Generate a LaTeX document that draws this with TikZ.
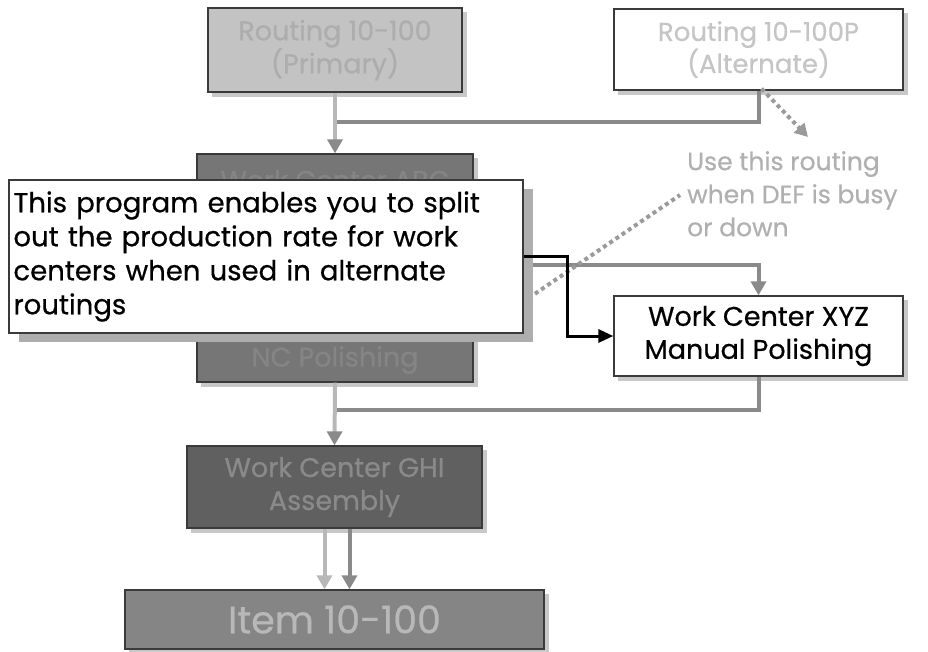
\documentclass[tikz,border=0pt]{standalone}
\usepackage{fontspec}
\setmainfont{Poppins}[FakeBold=0.6]
\usetikzlibrary{arrows.meta}
\definecolor{bordergray}{HTML}{3A3A3A}
\definecolor{shadowgray}{HTML}{C8C8C8}
\definecolor{calloutshadow}{HTML}{AEAEAE}
\definecolor{primfill}{HTML}{C3C3C3}
\definecolor{primtext}{HTML}{ADADAD}
\definecolor{alttext}{HTML}{C5C5C5}
\definecolor{abcfill}{HTML}{767676}
\definecolor{abctext}{HTML}{858585}
\definecolor{ghifill}{HTML}{606060}
\definecolor{ghitext}{HTML}{8A8A8A}
\definecolor{itemfill}{HTML}{858585}
\definecolor{itemtext}{HTML}{B8B8B8}
\definecolor{lightline}{HTML}{B8B8B8}
\definecolor{midline}{HTML}{8A8A8A}
\definecolor{dotgray}{HTML}{9A9A9A}
\definecolor{notetext}{HTML}{B0B0B0}
\tikzset{
  box/.style={draw=bordergray, line width=1.3pt, inner sep=0pt, align=center,
    preaction={fill=shadowgray, draw=shadowgray, line width=1pt, transform canvas={xshift=4pt,yshift=-4pt}}},
  lightconn/.style={draw=lightline, line width=4pt},
  midconn/.style={draw=midline, line width=4pt},
  gtip/.style={-{Triangle[width=15pt,length=14pt,color=midline]}},
  ltip/.style={-{Triangle[width=15pt,length=14pt,color=lightline]}},
  btip/.style={-{Triangle[width=13pt,length=15pt,color=black]}},
  dotconn/.style={draw=dotgray, line width=4pt, dash pattern=on 4pt off 3.5pt},
  boxfont/.style={font=\fontsize{27}{33}\selectfont},
}
\begin{document}
\begin{tikzpicture}[x=1pt,y=-1pt]
\useasboundingbox (0,0) rectangle (928,651);

% boxes
\node[box, boxfont, fill=primfill, text=primtext, minimum width=254pt, minimum height=84pt] (prim) at (335,50) {Routing 10-100\\(Primary)};
\node[box, font=\fontsize{26}{32}\selectfont, fill=white, text=alttext, minimum width=289pt, minimum height=81pt] (alt) at (758.5,49.5) {Routing 10-100P\\(Alternate)};
\node[box, fill=abcfill, minimum width=276pt, minimum height=228pt] (abc) at (335,268) {};
\node[boxfont, text=abctext] (abct1) at (335,180) {Work Center ABC};
\node[boxfont, text=abctext] (abct2) at (335,360) {NC Polishing};
\node[box, boxfont, fill=white, text=black, minimum width=289pt, minimum height=80pt] (xyz) at (758.5,336) {Work Center XYZ\\Manual Polishing};
\node[box, boxfont, fill=ghifill, text=ghitext, minimum width=295pt, minimum height=82pt] (ghi) at (334.5,487) {Work Center GHI\\Assembly};
\node[box, font=\fontsize{38}{42}\selectfont, fill=itemfill, text=itemtext, minimum width=419pt, minimum height=59pt] (item) at (334.5,619.5) {Item 10-100};

% note text
\node[anchor=north west, inner sep=0pt, align=left, text=notetext, font=\fontsize{25}{33}\selectfont] (note) at (687,151) {Use this routing\\when DEF is busy\\or down};

% connectors at top
\coordinate (j1) at (335,122);
\draw[midconn] (alt.south) |- (j1);
\draw[lightconn, gtip] (prim.south) -- (abc.north);
\coordinate (dtip) at (808,137);
\draw[dotconn, -{Triangle[width=14pt,length=13pt,color=dotgray]}] ([xshift=3pt,yshift=2pt]alt.south) -- (dtip);

% ABC -> XYZ
\draw[midconn, gtip] (abc.east |- 0,265) -| (xyz.north);
% dotted to note
\coordinate (d1) at (473,336);
\coordinate (d2) at (680,195);
\draw[dotconn] (d1) -- (d2);

% XYZ -> GHI
\coordinate (j2) at (334.5,410);
\draw[midconn] (xyz.south) |- (j2);
\draw[lightconn, gtip] (abc.south) -- (ghi.north);

% GHI -> Item
\draw[lightconn, ltip] ([xshift=-10pt]ghi.south) -- ([xshift=-10pt]item.north);
\draw[midconn, gtip] ([xshift=15pt]ghi.south) -- ([xshift=15pt]item.north);

% callout
\fill[calloutshadow] (19,189) rectangle (533,342);
\node[draw=bordergray, line width=1.3pt, fill=white, minimum width=514pt, minimum height=153pt, text width=505pt, inner xsep=4pt, inner ysep=0pt, align=left, font=\fontsize{27.5}{34}\selectfont] (callout) at (266,256.5) {This program enables you to split\\out the production rate for work\\centers when used in alternate\\routings};

% black connector
\coordinate (bk) at (567,256);
\draw[black, line width=3pt, btip] (callout.east |- 0,256) -- (bk) |- (xyz.west);
\end{tikzpicture}
\end{document}
